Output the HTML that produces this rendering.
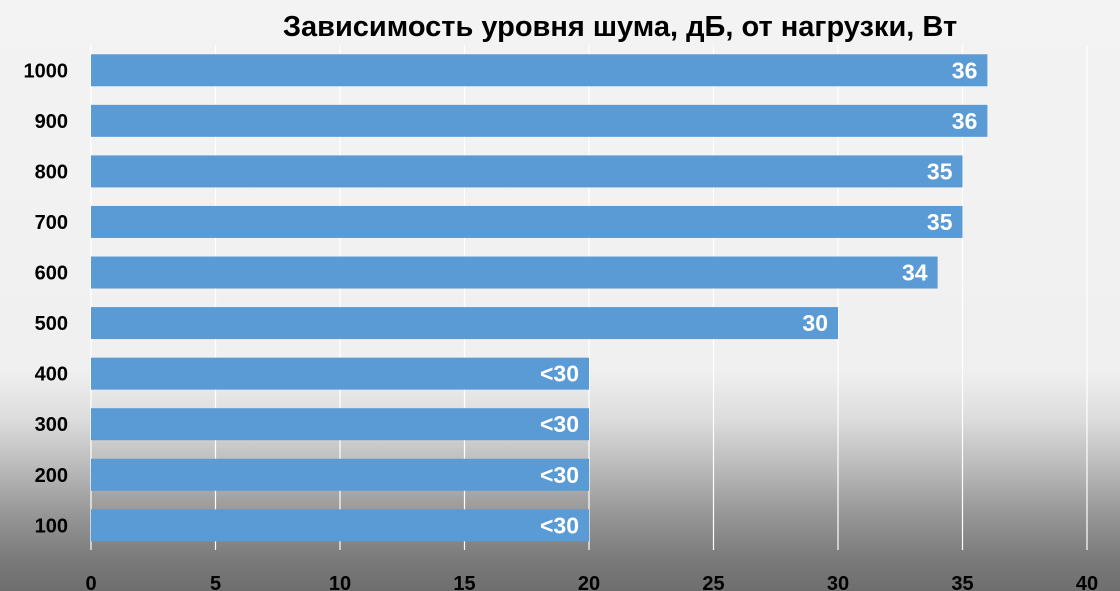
<!DOCTYPE html>
<html><head><meta charset="utf-8"><style>
body{margin:0;width:1120px;height:591px;overflow:hidden;font-family:"Liberation Sans",sans-serif}
#bg{position:absolute;left:0;top:0;width:1120px;height:591px;background:linear-gradient(to bottom,#f3f3f3 0px,#f0f0f0 370px,#dcdcdc 420px,#b8b8b8 470px,#969696 515px,#7a7a7a 560px,#6e6e6e 591px)}
svg{position:absolute;left:0;top:0}
</style></head><body>
<div id="bg"></div>
<svg id="chart" width="1120" height="591">
<text x="620" y="36" text-anchor="middle" font-family="Liberation Sans, sans-serif" font-weight="bold" font-size="29" fill="#000">Зависимость уровня шума, дБ, от нагрузки, Вт</text>
</svg>
<script>
const categories=["1000","900","800","700","600","500","400","300","200","100"];
const values=[36,36,35,35,34,30,20,20,20,20];
const valueLabels=["36","36","35","35","34","30","<30","<30","<30","<30"];
const xTicks=[0,5,10,15,20,25,30,35,40];
const svg=document.getElementById('chart');
const NS='http://www.w3.org/2000/svg';
const x0=91,x1=1087,xMax=40;
const xs=v=>x0+(x1-x0)*v/xMax;
const yTop=45,band=50.56,barH=32;
const yc=i=>yTop+band*i+band/2;
function mk(t,a){const e=document.createElementNS(NS,t);for(const k in a)e.setAttribute(k,a[k]);svg.appendChild(e);return e;}
xTicks.forEach(t=>{
 const l=mk('line',{x1:xs(t),x2:xs(t),y1:45,y2:550,stroke:'#ffffff','stroke-width':1.2});
 
 
 const tx=mk('text',{x:xs(t),y:590,'text-anchor':'middle','font-weight':'bold','font-size':20,fill:'#000'});
 tx.textContent=t;
 
 
});
categories.forEach((c,i)=>{
 const y=yc(i);
 const r=mk('rect',{x:xs(0),y:y-barH/2,width:xs(values[i])-xs(0),height:barH,fill:'#5b9bd5'});
 
 
 const lb=mk('text',{x:xs(values[i])-10,y:y+8,'text-anchor':'end','font-weight':'bold','font-size':23,fill:'#fff'});
 lb.textContent=valueLabels[i];
 
 
 const cl=mk('text',{x:68,y:y+7,'text-anchor':'end','font-weight':'bold','font-size':20,fill:'#000'});
 cl.textContent=c;
 
 
});
</script>
</body></html>
